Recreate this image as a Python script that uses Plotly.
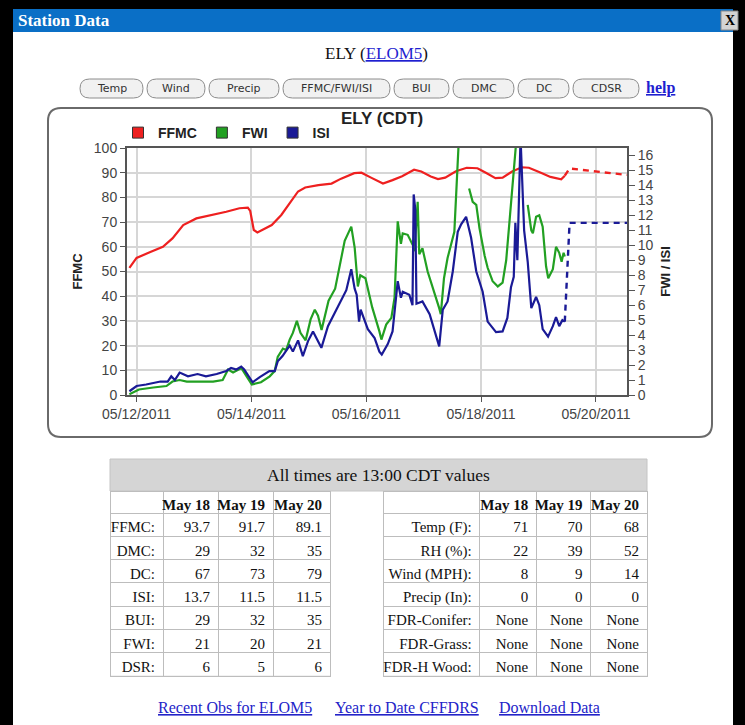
import plotly.graph_objects as go

# ---------------- data ----------------
ffmc_time = ["2011-05-11 21:00", "2011-05-12 00:00", "2011-05-12 06:00", "2011-05-12 11:00",
             "2011-05-12 15:00", "2011-05-12 19:30", "2011-05-13 01:00", "2011-05-13 08:00",
             "2011-05-13 13:30", "2011-05-13 19:00", "2011-05-13 22:30", "2011-05-13 23:30",
             "2011-05-14 01:00", "2011-05-14 02:30", "2011-05-14 05:30", "2011-05-14 08:30",
             "2011-05-14 12:30", "2011-05-14 16:30", "2011-05-14 19:30", "2011-05-14 22:30",
             "2011-05-15 04:00", "2011-05-15 09:30", "2011-05-15 13:30", "2011-05-15 19:00",
             "2011-05-15 22:00", "2011-05-16 02:00", "2011-05-16 07:00", "2011-05-16 11:00",
             "2011-05-16 15:00", "2011-05-16 20:00", "2011-05-16 23:00", "2011-05-17 03:00",
             "2011-05-17 06:00", "2011-05-17 09:00", "2011-05-17 13:30", "2011-05-17 18:00",
             "2011-05-17 22:30", "2011-05-18 02:00", "2011-05-18 06:00", "2011-05-18 09:00",
             "2011-05-18 13:00", "2011-05-18 17:00", "2011-05-18 20:00", "2011-05-19 01:00",
             "2011-05-19 05:00", "2011-05-19 09:30", "2011-05-19 11:00"]
ffmc = [51.5, 55.5, 58.0, 60.0, 63.4, 68.8, 71.5, 72.9, 74.2, 75.6, 75.9, 74.5,
        66.8, 65.8, 67.4, 68.8, 72.9, 78.3, 82.4, 84.0, 85.0, 85.6, 87.6, 89.8,
        90.0, 88.0, 85.6, 87.0, 88.6, 91.2, 90.5, 88.5, 87.4, 88.0, 90.6, 92.0,
        91.8, 90.0, 87.8, 88.0, 90.5, 92.2, 92.0, 90.0, 88.3, 87.3, 88.8]

isi_time = ["2011-05-11 21:00", "2011-05-12 00:00", "2011-05-12 04:00", "2011-05-12 07:00",
            "2011-05-12 10:00", "2011-05-12 13:00", "2011-05-12 14:30", "2011-05-12 16:00",
            "2011-05-12 18:00", "2011-05-12 21:30", "2011-05-13 01:30", "2011-05-13 05:00",
            "2011-05-13 09:30", "2011-05-13 13:30", "2011-05-13 15:30", "2011-05-13 17:45",
            "2011-05-13 19:45", "2011-05-13 21:00", "2011-05-14 00:30", "2011-05-14 03:30",
            "2011-05-14 05:30", "2011-05-14 07:30", "2011-05-14 09:45", "2011-05-14 11:00",
            "2011-05-14 13:00", "2011-05-14 16:00", "2011-05-14 17:20", "2011-05-14 19:30",
            "2011-05-14 21:30", "2011-05-14 23:40", "2011-05-15 01:45", "2011-05-15 03:30",
            "2011-05-15 05:15", "2011-05-15 08:00", "2011-05-15 10:45", "2011-05-15 13:30",
            "2011-05-15 15:40", "2011-05-15 17:45", "2011-05-15 19:10", "2011-05-15 20:00",
            "2011-05-15 21:00", "2011-05-15 21:40", "2011-05-16 00:40", "2011-05-16 03:30",
            "2011-05-16 05:30", "2011-05-16 06:30", "2011-05-16 09:00", "2011-05-16 11:00",
            "2011-05-16 13:10", "2011-05-16 14:30", "2011-05-16 15:15", "2011-05-16 18:00",
            "2011-05-16 19:20", "2011-05-16 19:50", "2011-05-16 20:30", "2011-05-16 21:00",
            "2011-05-16 23:30", "2011-05-17 02:30", "2011-05-17 05:15", "2011-05-17 06:30",
            "2011-05-17 08:00", "2011-05-17 10:00", "2011-05-17 12:10", "2011-05-17 14:15",
            "2011-05-17 15:40", "2011-05-17 17:45", "2011-05-17 19:50", "2011-05-17 22:00",
            "2011-05-18 00:40", "2011-05-18 02:45", "2011-05-18 06:15", "2011-05-18 09:00",
            "2011-05-18 11:00", "2011-05-18 12:30", "2011-05-18 13:40", "2011-05-18 14:20",
            "2011-05-18 15:10", "2011-05-18 16:30", "2011-05-18 18:00", "2011-05-18 19:30",
            "2011-05-18 21:00", "2011-05-18 23:00", "2011-05-19 00:20", "2011-05-19 01:45",
            "2011-05-19 04:00", "2011-05-19 06:00", "2011-05-19 07:20", "2011-05-19 08:40",
            "2011-05-19 10:00", "2011-05-19 11:00"]
isi = [0.25, 0.6, 0.7, 0.8, 0.9, 0.9, 1.25, 1.0, 1.5, 1.25, 1.4, 1.25, 1.4, 1.6, 1.8, 1.7,
       1.9, 1.7, 0.85, 1.2, 1.4, 1.6, 1.6, 2.25, 2.6, 3.3, 2.9, 3.65, 2.6, 3.6, 4.25, 3.65,
       3.15, 4.6, 5.5, 6.3, 7.0, 8.4, 7.1, 6.7, 4.9, 5.7, 4.4, 3.8, 2.9, 2.7, 3.4, 4.25,
       7.6, 6.5, 6.9, 6.7, 6.0, 13.4, 12.4, 6.1, 6.25, 5.4, 3.8, 3.25, 5.7, 6.25, 8.25, 10.9,
       11.4, 11.9, 10.5, 8.25, 6.9, 4.9, 4.2, 4.25, 5.15, 7.2, 7.9, 11.5, 9.0, 17.2, 11.0, 8.9,
       5.8, 6.55, 6.0, 4.4, 3.9, 4.6, 5.2, 4.6, 5.0, 4.9]

fwi_time = ["2011-05-11 21:00", "2011-05-12 01:00", "2011-05-12 07:00", "2011-05-12 12:30",
            "2011-05-12 15:00", "2011-05-12 18:00", "2011-05-12 21:00", "2011-05-13 02:30",
            "2011-05-13 08:00", "2011-05-13 12:00", "2011-05-13 14:15", "2011-05-13 16:20",
            "2011-05-13 19:50", "2011-05-13 22:00", "2011-05-14 00:10", "2011-05-14 04:00",
            "2011-05-14 07:40", "2011-05-14 09:45", "2011-05-14 11:00", "2011-05-14 13:10",
            "2011-05-14 14:30", "2011-05-14 16:00", "2011-05-14 17:20", "2011-05-14 19:00",
            "2011-05-14 20:30", "2011-05-14 22:40", "2011-05-15 00:45", "2011-05-15 02:30",
            "2011-05-15 03:50", "2011-05-15 05:20", "2011-05-15 08:15", "2011-05-15 11:00",
            "2011-05-15 13:30", "2011-05-15 15:00", "2011-05-15 17:45", "2011-05-15 19:10",
            "2011-05-15 20:30", "2011-05-15 21:30", "2011-05-15 23:40", "2011-05-16 02:30",
            "2011-05-16 05:30", "2011-05-16 06:20", "2011-05-16 08:20", "2011-05-16 10:30",
            "2011-05-16 11:50", "2011-05-16 13:10", "2011-05-16 14:30", "2011-05-16 15:15",
            "2011-05-16 17:20", "2011-05-16 19:30", "2011-05-16 20:10", "2011-05-16 21:30",
            "2011-05-16 22:10", "2011-05-16 23:30", "2011-05-17 01:40", "2011-05-17 04:30",
            "2011-05-17 06:30", "2011-05-17 07:10", "2011-05-17 08:30", "2011-05-17 10:00",
            "2011-05-17 11:30", "2011-05-17 12:50", "2011-05-17 13:30", "2011-05-17 14:50",
            "2011-05-17 15:30", "2011-05-17 19:00", "2011-05-17 20:30", "2011-05-17 22:00",
            "2011-05-17 23:20", "2011-05-18 01:30", "2011-05-18 02:45", "2011-05-18 04:50",
            "2011-05-18 07:00", "2011-05-18 09:00", "2011-05-18 10:30", "2011-05-18 11:50",
            "2011-05-18 13:10", "2011-05-18 14:20", "2011-05-18 15:00", "2011-05-18 16:00",
            "2011-05-18 19:30", "2011-05-18 21:00", "2011-05-18 21:40", "2011-05-18 23:00",
            "2011-05-19 00:20", "2011-05-19 01:45", "2011-05-19 03:10", "2011-05-19 04:05",
            "2011-05-19 06:00", "2011-05-19 07:20", "2011-05-19 08:40", "2011-05-19 09:40",
            "2011-05-19 10:30", "2011-05-19 11:00"]
fwi = [0.05, 0.37, 0.5, 0.6, 0.9, 1.0, 0.9, 0.9, 0.9, 1.0, 1.7, 1.5, 1.8, 1.25, 0.7, 0.85,
       1.25, 1.6, 2.55, 3.1, 3.0, 3.7, 4.15, 4.95, 4.15, 3.65, 5.05, 5.7, 5.3, 4.35, 6.3, 7.1,
       9.0, 10.3, 11.25, 9.85, 7.25, 8.0, 7.8, 5.85, 4.25, 3.7, 4.7, 5.15, 6.5, 11.6, 10.1, 10.8,
       10.7, 10.0, 9.6, 12.9, 9.4, 9.8, 8.25, 6.9, 5.8, 5.4, 7.8, 9.15, 10.0, 10.9, 13.1, 17.5,
       None, 13.8, 12.9, 12.7, 11.15, 9.3, 8.5, 7.6, 7.25, 7.5, 9.0, 11.5, 14.0, 15.8, 17.5, None,
       12.7, 11.0, 10.8, 11.9, 12.0, 11.25, 8.6, 7.8, 8.4, 9.9, 9.5, 8.9, 9.5, 9.25]

# forecast (13:00 CDT values from the table), joined to the last observation
fcst_time = ["2011-05-19 11:00", "2011-05-19 13:00", "2011-05-20 13:00"]

table_days = ["May 18", "May 19", "May 20"]
idx_labels = ["FFMC:", "DMC:", "DC:", "ISI:", "BUI:", "FWI:", "DSR:"]
ffmc_tab = [93.7, 91.7, 89.1]
dmc_tab = [29, 32, 35]
dc_tab = [67, 73, 79]
isi_tab = [13.7, 11.5, 11.5]
bui_tab = [29, 32, 35]
fwi_tab = [21, 20, 21]
dsr_tab = [6, 5, 6]

wx_labels = ["Temp (F):", "RH (%):", "Wind (MPH):", "Precip (In):",
             "FDR-Conifer:", "FDR-Grass:", "FDR-H Wood:"]
temp_tab = [71, 70, 68]
rh_tab = [22, 39, 52]
wind_tab = [8, 9, 14]
precip_tab = [0, 0, 0]
fdr_conifer = ["None", "None", "None"]
fdr_grass = ["None", "None", "None"]
fdr_hwood = ["None", "None", "None"]

buttons = ["Temp", "Wind", "Precip", "FFMC/FWI/ISI", "BUI", "DMC", "DC", "CDSR"]
links = ["Recent Obs for ELOM5", "Year to Date CFFDRS", "Download Data"]

# ---------------- helpers (layout only) ----------------
W, H = 745, 725


def px(x):
    return x / W


def py(y):
    return 1 - y / H


def rrect(x0, y0, x1, y1, r):
    return (f"M {px(x0 + r)},{py(y0)} L {px(x1 - r)},{py(y0)} "
            f"Q {px(x1)},{py(y0)} {px(x1)},{py(y0 + r)} L {px(x1)},{py(y1 - r)} "
            f"Q {px(x1)},{py(y1)} {px(x1 - r)},{py(y1)} L {px(x0 + r)},{py(y1)} "
            f"Q {px(x0)},{py(y1)} {px(x0)},{py(y1 - r)} L {px(x0)},{py(y0 + r)} "
            f"Q {px(x0)},{py(y0)} {px(x0 + r)},{py(y0)} Z")


def fmt(v):
    s = v if isinstance(v, str) else f"{v:g}"
    return s.replace(" ", "\u00a0")


RED, GREEN, BLUE = "#ee2020", "#22a022", "#1a1a96"
SANS = "Liberation Sans, Arial, sans-serif"
SERIF = "Liberation Serif, Times New Roman, serif"

fig = go.Figure()

# data traces
fig.add_trace(go.Scatter(x=fwi_time, y=fwi, yaxis="y2", mode="lines", connectgaps=False,
                         line=dict(color=GREEN, width=2.2), showlegend=False, name="FWI"))
fig.add_trace(go.Scatter(x=isi_time, y=isi, yaxis="y2", mode="lines",
                         line=dict(color=BLUE, width=2.2), showlegend=False, name="ISI"))
fig.add_trace(go.Scatter(x=fcst_time, y=[isi[-1]] + isi_tab[1:], yaxis="y2", mode="lines",
                         line=dict(color=BLUE, width=2.4, dash="6px,5px"), showlegend=False,
                         name="ISI forecast"))
fig.add_trace(go.Scatter(x=ffmc_time, y=ffmc, mode="lines",
                         line=dict(color=RED, width=2.2), showlegend=False, name="FFMC"))
fig.add_trace(go.Scatter(x=fcst_time, y=[ffmc[-1]] + ffmc_tab[1:], mode="lines",
                         line=dict(color=RED, width=2.4, dash="6px,5px"), showlegend=False,
                         name="FFMC forecast"))

# legend entries (square swatches)
for nm, col in [("FFMC", RED), ("FWI", GREEN), ("ISI", BLUE)]:
    fig.add_trace(go.Scatter(x=[None], y=[None], mode="markers", name=nm,
                             marker=dict(symbol="square", size=11, color=col,
                                         line=dict(color="#333", width=1))))

# tables
left_cols = [[fmt(s) for s in idx_labels]] + [
    [fmt(r[i]) for r in (ffmc_tab, dmc_tab, dc_tab, isi_tab, bui_tab, fwi_tab, dsr_tab)]
    for i in range(3)]
right_cols = [[fmt(s) for s in wx_labels]] + [
    [fmt(r[i]) for r in (temp_tab, rh_tab, wind_tab, precip_tab, fdr_conifer, fdr_grass,
                         fdr_hwood)] for i in range(3)]
tfont = dict(family=SERIF, size=15, color="#111")
hfont = dict(family=SERIF, size=15, color="#111", weight="bold")
for cols, x0, x1, cw in [(left_cols, 110, 330, [53, 55, 55, 57]),
                         (right_cols, 383, 647, [96, 56, 54, 56])]:
    fig.add_trace(go.Table(
        domain=dict(x=[px(x0), px(x1)], y=[py(678), py(491)]),
        columnwidth=cw,
        header=dict(values=["\u00a0"] + [fmt(d) for d in table_days], height=22,
                    align="right", fill_color="white", line=dict(color="#bdbdbd", width=1),
                    font=hfont),
        cells=dict(values=cols, height=23.3, align="right", fill_color="white",
                   line=dict(color="#bdbdbd", width=1), font=tfont)))

# ---------------- page chrome ----------------
shapes = [
    dict(type="rect", xref="paper", yref="paper", x0=px(13), x1=px(733), y0=py(725), y1=py(9),
         fillcolor="white", line=dict(width=0), layer="below"),
    dict(type="rect", xref="paper", yref="paper", x0=px(13), x1=px(733), y0=py(32), y1=py(9),
         fillcolor="#0a6fc6", line=dict(width=0), layer="below"),
    dict(type="rect", xref="paper", yref="paper", x0=px(721), x1=px(738), y0=py(30), y1=py(11),
         fillcolor="#d4d4d4", line=dict(color="#888", width=1), layer="below"),
    dict(type="path", xref="paper", yref="paper", path=rrect(48, 108, 712, 437, 13),
         fillcolor="white", line=dict(color="#6a6a6a", width=2), layer="below"),
    dict(type="rect", xref="paper", yref="paper", x0=px(110), x1=px(647), y0=py(491), y1=py(459),
         fillcolor="#d5d5d5", line=dict(color="#c4c4c4", width=1), layer="below"),
    dict(type="line", xref="paper", yref="paper", x0=px(110), x1=px(330), y0=py(676.3),
         y1=py(676.3), line=dict(color="#bdbdbd", width=1), layer="above"),
    dict(type="line", xref="paper", yref="paper", x0=px(383), x1=px(647), y0=py(676.3),
         y1=py(676.3), line=dict(color="#bdbdbd", width=1), layer="above"),
]
btn_edges = [(80, 143), (147, 205), (209, 279), (283, 390), (394, 449), (453, 514),
             (518, 569), (573, 639)]
annotations = [
    dict(text="<b>Station Data</b>", x=px(16), y=py(20.5), xref="paper", yref="paper",
         xanchor="left", yanchor="middle", showarrow=False,
         font=dict(family=SERIF, size=17, color="white")),
    dict(text="<b>X</b>", x=px(729.5), y=py(21), xref="paper", yref="paper",
         xanchor="center", yanchor="middle", showarrow=False,
         font=dict(family=SERIF, size=14, color="black")),
    dict(text="ELY (<span style='color:#1f1fd0;text-decoration:underline'>ELOM5</span>)",
         x=px(376), y=py(53), xref="paper", yref="paper", xanchor="center", yanchor="middle",
         showarrow=False, font=dict(family=SERIF, size=17, color="#111")),
    dict(text="<b><span style='text-decoration:underline'>help</span></b>", x=px(660), y=py(88),
         xref="paper", yref="paper", xanchor="center", yanchor="middle", showarrow=False,
         font=dict(family=SERIF, size=16, color="#1f1fd0")),
    dict(text="All times are 13:00 CDT values", x=px(379), y=py(475), xref="paper",
         yref="paper", xanchor="center", yanchor="middle", showarrow=False,
         font=dict(family=SERIF, size=17.5, color="#111")),
]
for label, (b0, b1) in zip(buttons, btn_edges):
    shapes.append(dict(type="path", xref="paper", yref="paper", path=rrect(b0, 79, b1, 98, 9.5),
                       fillcolor="#f1f1f1", line=dict(color="#8c8c8c", width=1), layer="below"))
    annotations.append(dict(text=label, x=px((b0 + b1) / 2), y=py(88.5), xref="paper",
                            yref="paper", xanchor="center", yanchor="middle", showarrow=False,
                            font=dict(family="DejaVu Sans, Verdana, sans-serif", size=11,
                                      color="#333")))
for label, cx in zip(links, [235, 407, 549]):
    annotations.append(dict(text=f"<span style='text-decoration:underline'>{label}</span>",
                            x=px(cx), y=py(707), xref="paper", yref="paper", xanchor="center",
                            yanchor="middle", showarrow=False,
                            font=dict(family=SERIF, size=16, color="#2323c8")))

axis_common = dict(showline=True, linecolor="#555", linewidth=2, ticks="outside",
                   tickcolor="#555", tickfont=dict(family=SANS, size=14, color="#444"),
                   zeroline=False, automargin=False)

fig.update_layout(
    width=W, height=H, autosize=False,
    margin=dict(l=0, r=0, t=0, b=0, pad=0, autoexpand=False),
    paper_bgcolor="black", plot_bgcolor="white",
    title=dict(text="ELY (CDT)", x=px(382), y=py(118), xanchor="center", yanchor="middle",
               font=dict(family=SANS, size=17, color="#222", weight="bold")),
    showlegend=True,
    legend=dict(orientation="h", x=px(118), y=py(133), xanchor="left", yanchor="middle",
                bgcolor="rgba(0,0,0,0)", font=dict(family=SANS, size=14, color="#222",
                                                    weight="bold"),
                itemclick=False, itemdoubleclick=False, tracegroupgap=0),
    xaxis=dict(type="date", domain=[px(127), px(627)], anchor="y",
               range=["2011-05-11 20:00", "2011-05-20 13:00"], tick0="2011-05-12",
               dtick=172800000, tickformat="%m/%d/%Y", ticklen=5, mirror=True,
               showgrid=True, gridcolor="#d6d6d6", gridwidth=1.5, **axis_common),
    yaxis=dict(domain=[py(395), py(148)], range=[0, 100], dtick=10, ticklen=5,
               showgrid=True, gridcolor="#d6d6d6", gridwidth=1.5,
               title=dict(text="FFMC", standoff=8,
                          font=dict(family=SANS, size=13, color="#222", weight="bold")),
               **axis_common),
    yaxis2=dict(overlaying="y", side="right", anchor="x", range=[0, 16.5], dtick=1, ticklen=6,
                showgrid=False,
                title=dict(text="FWI / ISI", standoff=8,
                           font=dict(family=SANS, size=13, color="#222", weight="bold")),
                **axis_common),
    shapes=shapes, annotations=annotations,
)

fig.write_html("out.html", config={"displayModeBar": False},
               post_script="document.body.style.margin='0';")
